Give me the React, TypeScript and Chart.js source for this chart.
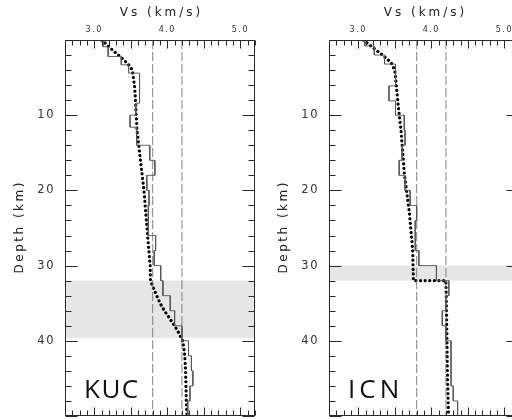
import React, { useEffect, useRef } from 'react';
import { Chart, registerables } from 'chart.js';

Chart.register(...registerables);

// ---- axis settings ----
const VS_MIN = 2.6;
const VS_MAX = 5.2;
const DEPTH_MIN = 0;
const DEPTH_MAX = 50;
const xTickLabels = [3.0, 4.0, 5.0];
const yTickLabels = [10, 20, 30, 40];
const xMinorStep = 0.1;
const xMajorStep = 0.5;
const yMinorStep = 2;
const yMajorStep = 10;
const refVs = [3.8, 4.2];
const xTitle = 'Vs (km/s)';
const yTitle = 'Depth (km)';

// ---- KUC ----
const kucName = 'KUC';
const kucLayerTop = [0, 0.9, 2.2, 3.3, 4.4, 8.4, 10, 11.6, 14, 16, 18, 20, 22, 26, 28, 30, 32, 34, 36, 38, 40, 42, 44, 46, 48];
const kucLayerVs = [3.12, 3.19, 3.37, 3.47, 3.62, 3.57, 3.49, 3.58, 3.76, 3.83, 3.72, 3.75, 3.74, 3.84, 3.82, 3.91, 3.94, 4.04, 4.10, 4.20, 4.29, 4.33, 4.35, 4.31, 4.28];
const kucSmoothDepth = [0, 0.5, 1, 1.5, 2, 2.5, 3, 3.5, 4, 5, 6, 8, 10, 12, 20, 26, 30, 32, 33, 34, 35, 36, 37, 38, 39, 40, 42, 44, 46, 48, 50];
const kucSmoothVs = [3.10, 3.16, 3.21, 3.27, 3.33, 3.39, 3.44, 3.49, 3.52, 3.535, 3.55, 3.565, 3.575, 3.585, 3.68, 3.73, 3.765, 3.77, 3.81, 3.855, 3.90, 3.96, 4.03, 4.10, 4.16, 4.21, 4.24, 4.25, 4.255, 4.26, 4.27];
const kucBand = [32, 39.6];

// ---- ICN ----
const icnName = 'ICN';
const icnLayerTop = [0, 0.8, 2, 3.2, 6.1, 8.1, 10, 12, 14, 16, 18, 20, 22, 24, 28, 30, 32, 34, 36, 38, 40, 46, 48];
const icnLayerVs = [3.09, 3.22, 3.36, 3.51, 3.42, 3.51, 3.63, 3.64, 3.60, 3.56, 3.64, 3.71, 3.80, 3.78, 3.83, 4.07, 4.24, 4.20, 4.15, 4.20, 4.27, 4.30, 4.36];
const icnSmoothDepth = [0, 1, 2, 3, 4, 6, 9, 12, 17.7, 23, 28, 32, 32, 37, 44, 50];
const icnSmoothVs = [3.07, 3.20, 3.33, 3.45, 3.50, 3.52, 3.55, 3.585, 3.63, 3.70, 3.745, 3.755, 4.20, 4.21, 4.22, 4.235];
const icnBand = [30, 32];

const FONT = '"DejaVu Sans", sans-serif';
const LABEL_FONT = '"Open Sans", sans-serif';

function stepPoints(tops: number[], vs: number[], maxDepth: number) {
  const pts: { x: number; y: number }[] = [];
  for (let i = 0; i < vs.length; i++) {
    const top = tops[i];
    const bot = i + 1 < tops.length ? tops[i + 1] : maxDepth;
    pts.push({ x: vs[i], y: top }, { x: vs[i], y: bot });
  }
  return pts;
}

function pairPoints(depth: number[], vs: number[]) {
  return depth.map((d, i) => ({ x: vs[i], y: d }));
}

function range(from: number, to: number, step: number) {
  const out: number[] = [];
  const n = Math.round((to - from) / step);
  for (let i = 0; i <= n; i++) out.push(from + i * step);
  return out;
}

const isMultiple = (v: number, step: number) => Math.abs(v / step - Math.round(v / step)) < 1e-6;

type PanelProps = {
  name: string;
  nameSpacing: number;
  layerTop: number[];
  layerVs: number[];
  smoothDepth: number[];
  smoothVs: number[];
  band: number[];
  left: number;
};

function Panel(props: PanelProps) {
  const ref = useRef<HTMLCanvasElement | null>(null);
  useEffect(() => {
    const canvas = ref.current;
    if (!canvas) return;

    const bandPlugin = {
      id: 'band',
      beforeDraw(chart: any) {
        chart.ctx.letterSpacing = '1.5px';
      },
      beforeDatasetsDraw(chart: any) {
        const { ctx, chartArea, scales } = chart;
        const y0 = scales.y.getPixelForValue(props.band[0]);
        const y1 = scales.y.getPixelForValue(props.band[1]);
        ctx.save();
        ctx.fillStyle = '#e6e6e6';
        ctx.fillRect(chartArea.left, y0, chartArea.right - chartArea.left, y1 - y0);
        ctx.restore();
      },
    };

    const framePlugin = {
      id: 'frame',
      afterDraw(chart: any) {
        const ctx: CanvasRenderingContext2D = chart.ctx;
        const a = chart.chartArea;
        const xs = chart.scales.x;
        const ys = chart.scales.y;
        ctx.save();
        ctx.setLineDash([]);
        ctx.strokeStyle = '#2a2a2a';
        ctx.lineWidth = 1;
        const L = Math.round(a.left) + 0.5;
        const R = Math.round(a.right) - 0.5;
        const T = Math.round(a.top) + 0.5;
        const B = Math.round(a.bottom) - 0.5;
        ctx.beginPath();
        // depth ticks, inward on both sides
        for (const d of range(DEPTH_MIN, DEPTH_MAX, yMinorStep)) {
          const py = Math.round(ys.getPixelForValue(d)) + 0.5;
          const len = isMultiple(d, yMajorStep) ? 12 : 6;
          ctx.moveTo(L, py);
          ctx.lineTo(L + len, py);
          ctx.moveTo(R, py);
          ctx.lineTo(R - len, py);
        }
        // velocity ticks, inward on top and bottom
        const first = Math.ceil(VS_MIN / xMinorStep - 1e-6) * xMinorStep;
        const last = Math.floor(VS_MAX / xMinorStep + 1e-6) * xMinorStep;
        for (const v of range(first, last, xMinorStep)) {
          const px = Math.round(xs.getPixelForValue(v)) + 0.5;
          const len = isMultiple(v, xMajorStep) ? 8 : 5;
          ctx.moveTo(px, T);
          ctx.lineTo(px, T + len);
          ctx.moveTo(px, B);
          ctx.lineTo(px, B - len);
        }
        ctx.stroke();
        ctx.strokeRect(L, T, R - L, B - T);

        ctx.fillStyle = '#222';
        // top title
        ctx.font = `12px ${FONT}`;
        (ctx as any).letterSpacing = '3px';
        ctx.textAlign = 'center';
        ctx.textBaseline = 'middle';
        ctx.fillText(xTitle, (a.left + a.right) / 2 + 1.5, 13);
        // left title
        ctx.save();
        ctx.translate(a.left - 45, (a.top + a.bottom) / 2);
        ctx.rotate(-Math.PI / 2);
        (ctx as any).letterSpacing = '2.5px';
        ctx.fillText(yTitle, 1.2, 0);
        ctx.restore();
        // station label
        ctx.font = `26px ${LABEL_FONT}`;
        (ctx as any).letterSpacing = `${props.nameSpacing}px`;
        ctx.textAlign = 'left';
        ctx.textBaseline = 'alphabetic';
        ctx.fillStyle = '#111';
        ctx.fillText(props.name, a.left + 19, a.bottom - 18.5);
        ctx.restore();
      },
    };

    const zeroPad = (s: any) => {
      s.paddingTop = 0;
      s.paddingBottom = 0;
      s.paddingLeft = 0;
      s.paddingRight = 0;
    };

    const chart = new Chart(canvas, {
      type: 'scatter',
      data: {
        datasets: [
          {
            data: stepPoints(props.layerTop, props.layerVs, DEPTH_MAX),
            showLine: true,
            borderColor: '#555',
            borderWidth: 0.9,
            pointRadius: 0,
            tension: 0,
          },
          ...refVs.map((v) => ({
            data: [
              { x: v, y: DEPTH_MIN },
              { x: v, y: DEPTH_MAX },
            ],
            showLine: true,
            borderColor: '#666',
            borderWidth: 0.8,
            borderDash: [9, 3],
            pointRadius: 0,
          })),
          {
            data: pairPoints(props.smoothDepth, props.smoothVs),
            showLine: true,
            borderColor: '#000',
            borderWidth: 3.2,
            borderDash: [0.01, 4.6],
            borderCapStyle: 'round',
            pointRadius: 0,
            tension: 0,
          },
        ],
      },
      options: {
        animation: false,
        responsive: false,
        maintainAspectRatio: false,
        layout: { padding: { left: 0, top: 0, right: 5, bottom: 4 } },
        plugins: { legend: { display: false }, tooltip: { enabled: false } },
        scales: {
          x: {
            type: 'linear',
            position: 'top',
            min: VS_MIN,
            max: VS_MAX,
            grid: { display: false, drawTicks: false },
            border: { display: false },
            afterBuildTicks: (s: any) => {
              s.ticks = xTickLabels.map((v) => ({ value: v }));
            },
            afterFit: (s: any) => {
              s.height = 40;
              zeroPad(s);
            },
            ticks: {
              padding: 5,
              autoSkip: false,
              maxRotation: 0,
              color: '#333',
              font: { family: FONT, size: 8 },
              callback: (v: any) => Number(v).toFixed(1),
            },
          },
          y: {
            type: 'linear',
            reverse: true,
            min: DEPTH_MIN,
            max: DEPTH_MAX,
            grid: { display: false, drawTicks: false },
            border: { display: false },
            afterBuildTicks: (s: any) => {
              s.ticks = yTickLabels.map((v) => ({ value: v }));
            },
            afterFit: (s: any) => {
              s.width = 65;
              zeroPad(s);
            },
            ticks: {
              padding: 10,
              autoSkip: false,
              color: '#333',
              font: { family: FONT, size: 11.5 },
              callback: (v: any) => String(v),
            },
          },
        },
      } as any,
      plugins: [bandPlugin, framePlugin],
    });
    return () => chart.destroy();
  }, []);
  return (
    <canvas
      ref={ref}
      width={260}
      height={420}
      style={{ position: 'absolute', left: props.left, top: 0, width: 260, height: 420 }}
    />
  );
}

export default function App() {
  return (
    <div
      style={{
        position: 'absolute',
        left: 0,
        top: 0,
        width: 512,
        height: 420,
        overflow: 'hidden',
        background: '#fff',
      }}
    >
      <Panel
        name={kucName}
        nameSpacing={1.5}
        layerTop={kucLayerTop}
        layerVs={kucLayerVs}
        smoothDepth={kucSmoothDepth}
        smoothVs={kucSmoothVs}
        band={kucBand}
        left={0}
      />
      <Panel
        name={icnName}
        nameSpacing={4}
        layerTop={icnLayerTop}
        layerVs={icnLayerVs}
        smoothDepth={icnSmoothDepth}
        smoothVs={icnSmoothVs}
        band={icnBand}
        left={264}
      />
    </div>
  );
}
